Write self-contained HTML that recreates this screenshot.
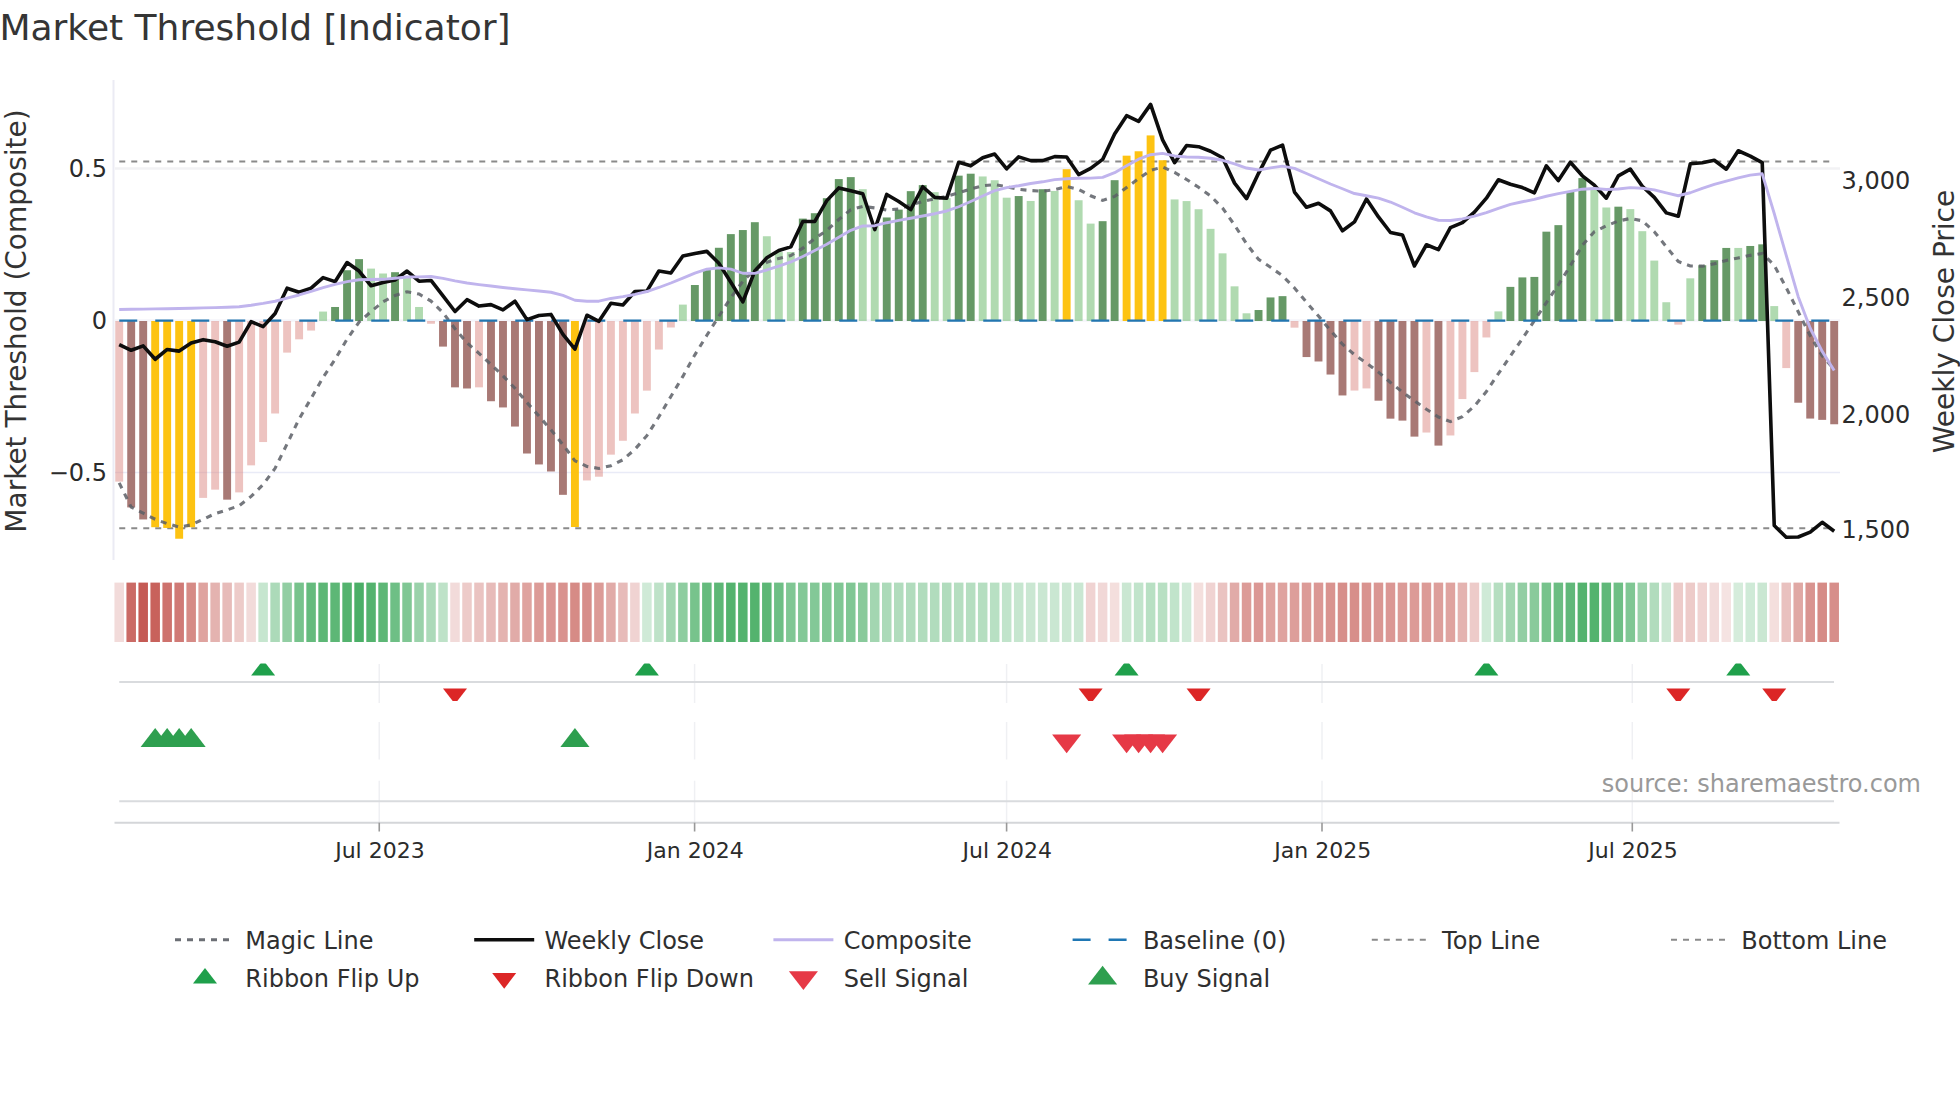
<!DOCTYPE html>
<html><head><meta charset="utf-8"><title>Market Threshold [Indicator]</title>
<style>html,body{margin:0;padding:0;background:#fff}svg{display:block}</style></head>
<body>
<svg width="1960" height="1102" viewBox="0 0 1960 1102" font-family='"DejaVu Sans", "Liberation Sans", sans-serif'>
<rect width="1960" height="1102" fill="#fff"/>
<text x="-0.6" y="39.9" font-size="36" fill="#353535">Market Threshold [Indicator]</text>
<g id="grid">
<line x1="115" x2="1840" y1="168.5" y2="168.5" stroke="#f2f2f4" stroke-width="2.4"/>
<line x1="115" x2="1840" y1="472.5" y2="472.5" stroke="#e9ebf7" stroke-width="1.6"/>
<line x1="115" x2="1840" y1="320.5" y2="320.5" stroke="#f5f5fa" stroke-width="2.4"/>
<line x1="113.5" x2="113.5" y1="80" y2="560" stroke="#ebebf4" stroke-width="2"/>
</g>
<line x1="119.25" x2="1834" y1="161.4" y2="161.4" stroke="#8a8a8a" stroke-width="2" stroke-dasharray="6 6"/>
<line x1="119.25" x2="1834" y1="528.3" y2="528.3" stroke="#8a8a8a" stroke-width="2" stroke-dasharray="6 6"/>
<g id="bars" shape-rendering="auto">
<rect x="115.25" y="321.0" width="7.9" height="160.62" fill="rgba(219,135,129,0.5)"/>
<rect x="127.24" y="321.0" width="7.9" height="186.42" fill="rgba(159,106,102,0.9)"/>
<rect x="139.24" y="321.0" width="7.9" height="198.45" fill="rgba(159,106,102,0.9)"/>
<rect x="151.23" y="321.0" width="7.9" height="206.21" fill="rgba(253,190,0,0.93)"/>
<rect x="163.22" y="321.0" width="7.9" height="206.97" fill="rgba(253,190,0,0.93)"/>
<rect x="175.22" y="321.0" width="7.9" height="217.74" fill="rgba(253,190,0,0.93)"/>
<rect x="187.21" y="321.0" width="7.9" height="206.21" fill="rgba(253,190,0,0.93)"/>
<rect x="199.2" y="321.0" width="7.9" height="176.9" fill="rgba(219,135,129,0.5)"/>
<rect x="211.19" y="321.0" width="7.9" height="168.64" fill="rgba(219,135,129,0.5)"/>
<rect x="223.19" y="321.0" width="7.9" height="178.66" fill="rgba(159,106,102,0.9)"/>
<rect x="235.18" y="321.0" width="7.9" height="171.39" fill="rgba(219,135,129,0.5)"/>
<rect x="247.17" y="321.0" width="7.9" height="144.34" fill="rgba(219,135,129,0.5)"/>
<rect x="259.17" y="321.0" width="7.9" height="121.04" fill="rgba(219,135,129,0.5)"/>
<rect x="271.16" y="321.0" width="7.9" height="92.48" fill="rgba(219,135,129,0.5)"/>
<rect x="283.15" y="321.0" width="7.9" height="31.61" fill="rgba(219,135,129,0.5)"/>
<rect x="295.15" y="321.0" width="7.9" height="18.33" fill="rgba(219,135,129,0.5)"/>
<rect x="307.14" y="321.0" width="7.9" height="9.56" fill="rgba(219,135,129,0.5)"/>
<rect x="319.13" y="311.57" width="7.9" height="9.43" fill="rgba(97,181,97,0.5)"/>
<rect x="331.12" y="306.99" width="7.9" height="14.01" fill="rgba(85,142,85,0.9)"/>
<rect x="343.12" y="270.24" width="7.9" height="50.76" fill="rgba(85,142,85,0.9)"/>
<rect x="355.11" y="259.13" width="7.9" height="61.87" fill="rgba(85,142,85,0.9)"/>
<rect x="367.1" y="268.61" width="7.9" height="52.39" fill="rgba(97,181,97,0.5)"/>
<rect x="379.1" y="273.51" width="7.9" height="47.49" fill="rgba(97,181,97,0.5)"/>
<rect x="391.09" y="272.2" width="7.9" height="48.8" fill="rgba(85,142,85,0.9)"/>
<rect x="403.08" y="277.43" width="7.9" height="43.57" fill="rgba(97,181,97,0.5)"/>
<rect x="415.07" y="306.99" width="7.9" height="14.01" fill="rgba(97,181,97,0.5)"/>
<rect x="427.07" y="321.0" width="7.9" height="2.73" fill="rgba(219,135,129,0.5)"/>
<rect x="439.06" y="321.0" width="7.9" height="25.6" fill="rgba(159,106,102,0.9)"/>
<rect x="451.05" y="321.0" width="7.9" height="66.35" fill="rgba(159,106,102,0.9)"/>
<rect x="463.05" y="321.0" width="7.9" height="67.49" fill="rgba(159,106,102,0.9)"/>
<rect x="475.04" y="321.0" width="7.9" height="66.35" fill="rgba(219,135,129,0.5)"/>
<rect x="487.03" y="321.0" width="7.9" height="80.24" fill="rgba(159,106,102,0.9)"/>
<rect x="499.03" y="321.0" width="7.9" height="86.44" fill="rgba(159,106,102,0.9)"/>
<rect x="511.02" y="321.0" width="7.9" height="105.55" fill="rgba(159,106,102,0.9)"/>
<rect x="523.01" y="321.0" width="7.9" height="132.51" fill="rgba(159,106,102,0.9)"/>
<rect x="535" y="321.0" width="7.9" height="143.45" fill="rgba(159,106,102,0.9)"/>
<rect x="547" y="321.0" width="7.9" height="150.48" fill="rgba(159,106,102,0.9)"/>
<rect x="558.99" y="321.0" width="7.9" height="173.83" fill="rgba(159,106,102,0.9)"/>
<rect x="570.98" y="321.0" width="7.9" height="206.01" fill="rgba(253,190,0,0.93)"/>
<rect x="582.98" y="321.0" width="7.9" height="159.46" fill="rgba(219,135,129,0.5)"/>
<rect x="594.97" y="321.0" width="7.9" height="155.7" fill="rgba(219,135,129,0.5)"/>
<rect x="606.96" y="321.0" width="7.9" height="133.65" fill="rgba(219,135,129,0.5)"/>
<rect x="618.96" y="321.0" width="7.9" height="119.77" fill="rgba(219,135,129,0.5)"/>
<rect x="630.95" y="321.0" width="7.9" height="92.49" fill="rgba(219,135,129,0.5)"/>
<rect x="642.94" y="321.0" width="7.9" height="69.62" fill="rgba(219,135,129,0.5)"/>
<rect x="654.94" y="321.0" width="7.9" height="28.54" fill="rgba(219,135,129,0.5)"/>
<rect x="666.93" y="321.0" width="7.9" height="6.48" fill="rgba(219,135,129,0.5)"/>
<rect x="678.92" y="304.61" width="7.9" height="16.39" fill="rgba(97,181,97,0.5)"/>
<rect x="690.91" y="285.01" width="7.9" height="35.99" fill="rgba(85,142,85,0.9)"/>
<rect x="702.91" y="269" width="7.9" height="52" fill="rgba(85,142,85,0.9)"/>
<rect x="714.9" y="247.77" width="7.9" height="73.23" fill="rgba(85,142,85,0.9)"/>
<rect x="726.89" y="234.12" width="7.9" height="86.88" fill="rgba(85,142,85,0.9)"/>
<rect x="738.89" y="230.04" width="7.9" height="90.96" fill="rgba(85,142,85,0.9)"/>
<rect x="750.88" y="222.2" width="7.9" height="98.8" fill="rgba(85,142,85,0.9)"/>
<rect x="762.87" y="236.25" width="7.9" height="84.75" fill="rgba(97,181,97,0.5)"/>
<rect x="774.87" y="252.09" width="7.9" height="68.91" fill="rgba(97,181,97,0.5)"/>
<rect x="786.86" y="252.09" width="7.9" height="68.91" fill="rgba(97,181,97,0.5)"/>
<rect x="798.85" y="218.61" width="7.9" height="102.39" fill="rgba(85,142,85,0.9)"/>
<rect x="810.84" y="213.22" width="7.9" height="107.78" fill="rgba(85,142,85,0.9)"/>
<rect x="822.84" y="198.19" width="7.9" height="122.81" fill="rgba(85,142,85,0.9)"/>
<rect x="834.83" y="179.08" width="7.9" height="141.92" fill="rgba(85,142,85,0.9)"/>
<rect x="846.82" y="177.12" width="7.9" height="143.88" fill="rgba(85,142,85,0.9)"/>
<rect x="858.82" y="189.2" width="7.9" height="131.8" fill="rgba(97,181,97,0.5)"/>
<rect x="870.81" y="224.32" width="7.9" height="96.68" fill="rgba(97,181,97,0.5)"/>
<rect x="882.8" y="217.46" width="7.9" height="103.54" fill="rgba(85,142,85,0.9)"/>
<rect x="894.8" y="209.62" width="7.9" height="111.38" fill="rgba(85,142,85,0.9)"/>
<rect x="906.79" y="191.16" width="7.9" height="129.84" fill="rgba(85,142,85,0.9)"/>
<rect x="918.78" y="185.12" width="7.9" height="135.88" fill="rgba(85,142,85,0.9)"/>
<rect x="930.77" y="192.14" width="7.9" height="128.86" fill="rgba(97,181,97,0.5)"/>
<rect x="942.77" y="198.19" width="7.9" height="122.81" fill="rgba(97,181,97,0.5)"/>
<rect x="954.76" y="175.65" width="7.9" height="145.35" fill="rgba(85,142,85,0.9)"/>
<rect x="966.75" y="173.69" width="7.9" height="147.31" fill="rgba(85,142,85,0.9)"/>
<rect x="978.75" y="176.46" width="7.9" height="144.54" fill="rgba(97,181,97,0.5)"/>
<rect x="990.74" y="180.22" width="7.9" height="140.78" fill="rgba(97,181,97,0.5)"/>
<rect x="1002.73" y="197.7" width="7.9" height="123.3" fill="rgba(97,181,97,0.5)"/>
<rect x="1014.73" y="196.06" width="7.9" height="124.94" fill="rgba(85,142,85,0.9)"/>
<rect x="1026.72" y="200.96" width="7.9" height="120.04" fill="rgba(97,181,97,0.5)"/>
<rect x="1038.71" y="189.2" width="7.9" height="131.8" fill="rgba(85,142,85,0.9)"/>
<rect x="1050.7" y="190.95" width="7.9" height="130.05" fill="rgba(97,181,97,0.5)"/>
<rect x="1062.7" y="169.22" width="7.9" height="151.78" fill="rgba(253,190,0,0.93)"/>
<rect x="1074.69" y="200.26" width="7.9" height="120.74" fill="rgba(97,181,97,0.5)"/>
<rect x="1086.68" y="223.62" width="7.9" height="97.38" fill="rgba(97,181,97,0.5)"/>
<rect x="1098.68" y="221.17" width="7.9" height="99.83" fill="rgba(85,142,85,0.9)"/>
<rect x="1110.67" y="180.17" width="7.9" height="140.83" fill="rgba(85,142,85,0.9)"/>
<rect x="1122.66" y="155.67" width="7.9" height="165.33" fill="rgba(253,190,0,0.93)"/>
<rect x="1134.65" y="151.26" width="7.9" height="169.74" fill="rgba(253,190,0,0.93)"/>
<rect x="1146.65" y="135.41" width="7.9" height="185.59" fill="rgba(253,190,0,0.93)"/>
<rect x="1158.64" y="160.24" width="7.9" height="160.76" fill="rgba(253,190,0,0.93)"/>
<rect x="1170.63" y="199.44" width="7.9" height="121.56" fill="rgba(97,181,97,0.5)"/>
<rect x="1182.63" y="201.08" width="7.9" height="119.92" fill="rgba(97,181,97,0.5)"/>
<rect x="1194.62" y="209.24" width="7.9" height="111.76" fill="rgba(97,181,97,0.5)"/>
<rect x="1206.61" y="228.85" width="7.9" height="92.15" fill="rgba(97,181,97,0.5)"/>
<rect x="1218.61" y="253.35" width="7.9" height="67.65" fill="rgba(97,181,97,0.5)"/>
<rect x="1230.6" y="286.33" width="7.9" height="34.67" fill="rgba(97,181,97,0.5)"/>
<rect x="1242.59" y="313.29" width="7.9" height="7.71" fill="rgba(97,181,97,0.5)"/>
<rect x="1254.59" y="310.02" width="7.9" height="10.98" fill="rgba(85,142,85,0.9)"/>
<rect x="1266.58" y="297.44" width="7.9" height="23.56" fill="rgba(85,142,85,0.9)"/>
<rect x="1278.57" y="296.14" width="7.9" height="24.86" fill="rgba(85,142,85,0.9)"/>
<rect x="1290.56" y="321.0" width="7.9" height="6.66" fill="rgba(219,135,129,0.5)"/>
<rect x="1302.56" y="321.0" width="7.9" height="36.06" fill="rgba(159,106,102,0.9)"/>
<rect x="1314.55" y="321.0" width="7.9" height="40.48" fill="rgba(159,106,102,0.9)"/>
<rect x="1326.54" y="321.0" width="7.9" height="53.54" fill="rgba(159,106,102,0.9)"/>
<rect x="1338.54" y="321.0" width="7.9" height="74.45" fill="rgba(159,106,102,0.9)"/>
<rect x="1350.53" y="321.0" width="7.9" height="69.55" fill="rgba(219,135,129,0.5)"/>
<rect x="1362.52" y="321.0" width="7.9" height="67.43" fill="rgba(219,135,129,0.5)"/>
<rect x="1374.52" y="321.0" width="7.9" height="79.68" fill="rgba(159,106,102,0.9)"/>
<rect x="1386.51" y="321.0" width="7.9" height="97.65" fill="rgba(159,106,102,0.9)"/>
<rect x="1398.5" y="321.0" width="7.9" height="99.61" fill="rgba(159,106,102,0.9)"/>
<rect x="1410.49" y="321.0" width="7.9" height="115.62" fill="rgba(159,106,102,0.9)"/>
<rect x="1422.49" y="321.0" width="7.9" height="111.53" fill="rgba(219,135,129,0.5)"/>
<rect x="1434.48" y="321.0" width="7.9" height="124.6" fill="rgba(159,106,102,0.9)"/>
<rect x="1446.47" y="321.0" width="7.9" height="114.47" fill="rgba(219,135,129,0.5)"/>
<rect x="1458.47" y="321.0" width="7.9" height="78.05" fill="rgba(219,135,129,0.5)"/>
<rect x="1470.46" y="321.0" width="7.9" height="51.09" fill="rgba(219,135,129,0.5)"/>
<rect x="1482.45" y="321.0" width="7.9" height="16.46" fill="rgba(219,135,129,0.5)"/>
<rect x="1494.44" y="311.39" width="7.9" height="9.61" fill="rgba(97,181,97,0.5)"/>
<rect x="1506.44" y="286.89" width="7.9" height="34.11" fill="rgba(85,142,85,0.9)"/>
<rect x="1518.43" y="277.41" width="7.9" height="43.59" fill="rgba(85,142,85,0.9)"/>
<rect x="1530.42" y="276.92" width="7.9" height="44.08" fill="rgba(85,142,85,0.9)"/>
<rect x="1542.42" y="231.67" width="7.9" height="89.33" fill="rgba(85,142,85,0.9)"/>
<rect x="1554.41" y="225.14" width="7.9" height="95.86" fill="rgba(85,142,85,0.9)"/>
<rect x="1566.4" y="191.65" width="7.9" height="129.35" fill="rgba(85,142,85,0.9)"/>
<rect x="1578.4" y="178.1" width="7.9" height="142.9" fill="rgba(85,142,85,0.9)"/>
<rect x="1590.39" y="189.2" width="7.9" height="131.8" fill="rgba(97,181,97,0.5)"/>
<rect x="1602.38" y="207.5" width="7.9" height="113.5" fill="rgba(97,181,97,0.5)"/>
<rect x="1614.38" y="206.68" width="7.9" height="114.32" fill="rgba(85,142,85,0.9)"/>
<rect x="1626.37" y="209.13" width="7.9" height="111.87" fill="rgba(97,181,97,0.5)"/>
<rect x="1638.36" y="231.18" width="7.9" height="89.82" fill="rgba(97,181,97,0.5)"/>
<rect x="1650.35" y="260.59" width="7.9" height="60.41" fill="rgba(97,181,97,0.5)"/>
<rect x="1662.35" y="302.24" width="7.9" height="18.76" fill="rgba(97,181,97,0.5)"/>
<rect x="1674.34" y="321.0" width="7.9" height="3.63" fill="rgba(219,135,129,0.5)"/>
<rect x="1686.33" y="278.32" width="7.9" height="42.68" fill="rgba(97,181,97,0.5)"/>
<rect x="1698.33" y="265.25" width="7.9" height="55.75" fill="rgba(85,142,85,0.9)"/>
<rect x="1710.32" y="260.19" width="7.9" height="60.81" fill="rgba(85,142,85,0.9)"/>
<rect x="1722.31" y="247.94" width="7.9" height="73.06" fill="rgba(85,142,85,0.9)"/>
<rect x="1734.31" y="247.94" width="7.9" height="73.06" fill="rgba(97,181,97,0.5)"/>
<rect x="1746.3" y="245.98" width="7.9" height="75.02" fill="rgba(85,142,85,0.9)"/>
<rect x="1758.29" y="244.34" width="7.9" height="76.66" fill="rgba(85,142,85,0.9)"/>
<rect x="1770.28" y="306.09" width="7.9" height="14.91" fill="rgba(97,181,97,0.5)"/>
<rect x="1782.28" y="321.0" width="7.9" height="47.08" fill="rgba(219,135,129,0.5)"/>
<rect x="1794.27" y="321.0" width="7.9" height="81.71" fill="rgba(159,106,102,0.9)"/>
<rect x="1806.26" y="321.0" width="7.9" height="97.56" fill="rgba(159,106,102,0.9)"/>
<rect x="1818.26" y="321.0" width="7.9" height="98.86" fill="rgba(159,106,102,0.9)"/>
<rect x="1830.25" y="321.0" width="7.9" height="103.27" fill="rgba(159,106,102,0.9)"/>
</g>
<polyline fill="none" stroke="#5c5f66" stroke-opacity="0.85" stroke-width="3.1" stroke-dasharray="6 6" points="119.2,482.87 131.19,507.14 143.19,513.24 155.18,519.24 167.17,523.67 179.17,527 191.16,524.87 203.15,519.29 215.14,513.59 227.14,509.88 239.13,505.71 251.12,496.41 263.12,484.51 275.11,468.3 287.1,443.88 299.1,418.94 311.09,398.39 323.08,377.44 335.07,359.45 347.07,339.14 359.06,322.07 371.05,311.61 383.05,301.68 395.04,295.46 407.03,291.73 419.02,294.02 431.02,301.06 443.01,312.75 455,328.74 467,342.79 478.99,353.3 490.98,364.49 502.98,375.86 514.97,388.28 526.96,402.53 538.96,416.08 550.95,429.87 562.94,444.64 574.93,460.8 586.93,466.41 598.92,468.43 610.91,465.71 622.91,459.81 634.9,449.33 646.89,435.66 658.89,416.72 670.88,396.5 682.87,376.38 694.86,354.85 706.86,335.3 718.85,316.34 730.84,297.71 742.84,281.26 754.83,269.63 766.82,262.32 778.82,258.4 790.81,255.48 802.8,248.13 814.79,238.6 826.79,230.3 838.78,219.49 850.77,209.69 862.77,206.36 874.76,207.93 886.75,210 898.75,208.98 910.74,204.93 922.73,201.46 934.72,198.89 946.72,196.24 958.71,192.79 970.7,189.04 982.7,185.77 994.69,184.59 1006.68,186.78 1018.68,189.36 1030.67,190.52 1042.66,191.19 1054.65,189.66 1066.65,186.44 1078.64,189.36 1090.63,195.77 1102.63,200.4 1114.62,196.44 1126.61,187.57 1138.61,178.58 1150.6,170.39 1162.59,166.98 1174.58,172.38 1186.58,179.45 1198.57,187.27 1210.56,195.85 1222.56,208.12 1234.55,225.01 1246.54,243.82 1258.54,259.33 1270.53,267.31 1282.52,275.77 1294.51,287.93 1306.51,302.29 1318.5,316.09 1330.49,330.53 1342.49,344.19 1354.48,354.74 1366.47,363.1 1378.47,372.09 1390.46,382.47 1402.45,392.06 1414.44,400.91 1426.44,409.24 1438.43,417 1450.42,421.59 1462.42,416.74 1474.41,406.1 1486.4,391.53 1498.39,373.64 1510.39,356.04 1522.38,338.6 1534.37,320.63 1546.37,302.62 1558.36,284.99 1570.35,265.64 1582.35,245.3 1594.34,231.76 1606.33,225.74 1618.33,221.03 1630.32,218.46 1642.31,220.82 1654.3,231.7 1666.3,246.74 1678.29,261.52 1690.28,265.96 1702.28,266.17 1714.27,263.84 1726.26,260.41 1738.26,257.96 1750.25,255.36 1762.24,253.37 1774.23,265.36 1786.23,287.69 1798.22,311.75 1810.21,335.74 1822.21,355.86 1834.2,369.22"/>
<line x1="119.25" x2="1834" y1="320.6" y2="320.6" stroke="#2276b0" stroke-width="2.4" stroke-dasharray="18 18"/>
<polyline fill="none" stroke="#0d0d0d" stroke-width="3.6" stroke-linejoin="round" points="119.2,344.56 131.19,350.28 143.19,345.87 155.18,359.26 167.17,349.46 179.17,351.1 191.16,342.93 203.15,339.66 215.14,341.79 227.14,346.2 239.13,342.11 251.12,321.69 263.12,326.6 275.11,313.53 287.1,288.21 299.1,292.29 311.09,288.21 323.08,277.59 335.07,281.67 347.07,262.56 359.06,271.06 371.05,285.76 383.05,282.49 395.04,280.04 407.03,271.06 419.02,281.18 431.02,280.44 443.01,295.96 455,311.48 467,299.71 478.99,306.08 490.98,304.61 502.98,309.84 514.97,301.18 526.96,319.64 538.96,315.56 550.95,314.42 562.94,334.34 574.93,349.05 586.93,315.23 598.92,321.28 610.91,303.31 622.91,304.94 634.9,291.55 646.89,291.06 658.89,270.96 670.88,273.09 682.87,255.94 694.86,253.49 706.86,251.36 718.85,263.29 730.84,282.31 742.84,301.91 754.83,270.88 766.82,257.81 778.82,250.46 790.81,246.87 802.8,221.55 814.79,221.38 826.79,200.64 838.78,187.9 850.77,190.84 862.77,193.78 874.76,229.55 886.75,194.43 898.75,201.45 910.74,209.62 922.73,186.75 934.72,197.37 946.72,198.19 958.71,162.25 970.7,165.84 982.7,157.68 994.69,154.08 1006.68,168.79 1018.68,156.86 1030.67,160.62 1042.66,160.62 1054.65,156.65 1066.65,156.97 1078.64,174.61 1090.63,168.41 1102.63,159.42 1114.62,134.1 1126.61,115.65 1138.61,121.36 1150.6,104.37 1162.59,139.82 1174.58,162.69 1186.58,145.54 1198.57,146.68 1210.56,151.26 1222.56,157.79 1234.55,183.11 1246.54,198.63 1258.54,173.31 1270.53,150.11 1282.52,145.05 1294.51,192.09 1306.51,207.28 1318.5,203.2 1330.49,210.88 1342.49,230.81 1354.48,221.87 1366.47,199 1378.47,216.97 1390.46,232.49 1402.45,234.94 1414.44,265.98 1426.44,244.74 1438.43,249.64 1450.42,227.59 1462.42,222.69 1474.41,212.07 1486.4,198.19 1498.39,179.73 1510.39,184.3 1522.38,187.57 1534.37,192.8 1546.37,165.84 1558.36,180.55 1570.35,162.25 1582.35,175.81 1594.34,185.12 1606.33,198.19 1618.33,175.81 1630.32,169.11 1642.31,186.26 1654.3,197.37 1666.3,212.89 1678.29,216.25 1690.28,163.81 1702.28,162.67 1714.27,160.22 1726.26,169.2 1738.26,150.75 1750.25,156.14 1762.24,162.67 1774.23,525.56 1786.23,537.32 1798.22,536.99 1810.21,532.09 1822.21,522.29 1834.2,531.28"/>
<polyline fill="none" stroke="#c0b4ed" stroke-width="2.9" stroke-linejoin="round" points="119.2,309.44 131.19,309.27 143.19,309.1 155.18,308.92 167.17,308.75 179.17,308.53 191.16,308.21 203.15,307.89 215.14,307.58 227.14,307.26 239.13,306.78 251.12,305.28 263.12,303.43 275.11,301.24 287.1,298.18 299.1,294.98 311.09,291.44 323.08,287.53 335.07,284.41 347.07,281.63 359.06,279.8 371.05,279.56 383.05,279.32 395.04,278.27 407.03,277.05 419.02,276.86 431.02,276.5 443.01,278.42 455,280.86 467,283.02 478.99,284.58 490.98,286.02 502.98,287.44 514.97,288.76 526.96,289.9 538.96,291.03 550.95,292.27 562.94,295.47 574.93,300.27 586.93,301.18 598.92,301.18 610.91,298.46 622.91,296.64 634.9,294.46 646.89,291.51 658.89,287.49 670.88,283 682.87,278.17 694.86,273.13 706.86,269.2 718.85,267.87 730.84,269.17 742.84,273.25 754.83,273.33 766.82,269.99 778.82,266.24 790.81,261.96 802.8,256.53 814.79,250.53 826.79,244.2 838.78,237.19 850.77,230.29 862.77,225.96 874.76,225.7 886.75,222.71 898.75,220.45 910.74,218.2 922.73,215.96 934.72,213.71 946.72,210.98 958.71,206.75 970.7,201.51 982.7,195.98 994.69,190.7 1006.68,187.56 1018.68,185.72 1030.67,183.47 1042.66,181.81 1054.65,179.62 1066.65,178.69 1078.64,178.21 1090.63,178.11 1102.63,177.41 1114.62,172.67 1126.61,165.83 1138.61,159.2 1150.6,154.7 1162.59,153.4 1174.58,155.94 1186.58,156.94 1198.57,157.2 1210.56,158.24 1222.56,160.28 1234.55,163.88 1246.54,168.01 1258.54,170 1270.53,167.86 1282.52,166.08 1294.51,168.34 1306.51,173.52 1318.5,178.77 1330.49,184.01 1342.49,188.73 1354.48,193.55 1366.47,195.74 1378.47,198.11 1390.46,202.03 1402.45,207.26 1414.44,212.76 1426.44,216.97 1438.43,220.25 1450.42,220.55 1462.42,218.9 1474.41,216.09 1486.4,212.53 1498.39,208.29 1510.39,204.39 1522.38,201.73 1534.37,199.35 1546.37,196.23 1558.36,193.63 1570.35,191.38 1582.35,189.18 1594.34,188.43 1606.33,189.52 1618.33,188.96 1630.32,187.64 1642.31,188.26 1654.3,189.93 1666.3,192.93 1678.29,195.75 1690.28,192.74 1702.28,188.32 1714.27,184.38 1726.26,181.12 1738.26,177.96 1750.25,175.18 1762.24,173.8 1774.23,213.5 1786.23,255.47 1798.22,296.69 1810.21,328.23 1822.21,351.39 1834.2,370.58"/>
<text x="107" y="177.1" font-size="24" text-anchor="end" fill="#2b2b2b">0.5</text>
<text x="107" y="329.1" font-size="24" text-anchor="end" fill="#2b2b2b">0</text>
<text x="107" y="481.1" font-size="24" text-anchor="end" fill="#2b2b2b">−0.5</text>
<text x="1841.5" y="188.8" font-size="24" fill="#2b2b2b">3,000</text>
<text x="1841.5" y="305.8" font-size="24" fill="#2b2b2b">2,500</text>
<text x="1841.5" y="422.5" font-size="24" fill="#2b2b2b">2,000</text>
<text x="1841.5" y="538.0" font-size="24" fill="#2b2b2b">1,500</text>
<text transform="translate(26,321) rotate(-90)" font-size="28" text-anchor="middle" fill="#333">Market Threshold (Composite)</text>
<text transform="translate(1953.6,321.5) rotate(-90)" font-size="28" text-anchor="middle" fill="#333">Weekly Close Price</text>
<g id="ribbon">
<rect x="114.45" y="582.6" width="9.5" height="59.4" fill="rgb(242, 219, 218)"/>
<rect x="126.44" y="582.6" width="9.5" height="59.4" fill="rgb(203, 106, 101)"/>
<rect x="138.44" y="582.6" width="9.5" height="59.4" fill="rgb(197, 90, 84)"/>
<rect x="150.43" y="582.6" width="9.5" height="59.4" fill="rgb(200, 98, 92)"/>
<rect x="162.42" y="582.6" width="9.5" height="59.4" fill="rgb(206, 114, 109)"/>
<rect x="174.42" y="582.6" width="9.5" height="59.4" fill="rgb(208, 122, 118)"/>
<rect x="186.41" y="582.6" width="9.5" height="59.4" fill="rgb(214, 139, 134)"/>
<rect x="198.4" y="582.6" width="9.5" height="59.4" fill="rgb(223, 163, 159)"/>
<rect x="210.39" y="582.6" width="9.5" height="59.4" fill="rgb(228, 179, 176)"/>
<rect x="222.39" y="582.6" width="9.5" height="59.4" fill="rgb(231, 187, 185)"/>
<rect x="234.38" y="582.6" width="9.5" height="59.4" fill="rgb(237, 203, 201)"/>
<rect x="246.37" y="582.6" width="9.5" height="59.4" fill="rgb(242, 219, 218)"/>
<rect x="258.37" y="582.6" width="9.5" height="59.4" fill="rgb(198, 230, 207)"/>
<rect x="270.36" y="582.6" width="9.5" height="59.4" fill="rgb(172, 218, 185)"/>
<rect x="282.35" y="582.6" width="9.5" height="59.4" fill="rgb(146, 206, 163)"/>
<rect x="294.35" y="582.6" width="9.5" height="59.4" fill="rgb(119, 195, 140)"/>
<rect x="306.34" y="582.6" width="9.5" height="59.4" fill="rgb(101, 187, 125)"/>
<rect x="318.33" y="582.6" width="9.5" height="59.4" fill="rgb(93, 183, 118)"/>
<rect x="330.32" y="582.6" width="9.5" height="59.4" fill="rgb(93, 183, 118)"/>
<rect x="342.32" y="582.6" width="9.5" height="59.4" fill="rgb(84, 179, 110)"/>
<rect x="354.31" y="582.6" width="9.5" height="59.4" fill="rgb(75, 175, 103)"/>
<rect x="366.3" y="582.6" width="9.5" height="59.4" fill="rgb(84, 179, 110)"/>
<rect x="378.3" y="582.6" width="9.5" height="59.4" fill="rgb(93, 183, 118)"/>
<rect x="390.29" y="582.6" width="9.5" height="59.4" fill="rgb(110, 191, 133)"/>
<rect x="402.28" y="582.6" width="9.5" height="59.4" fill="rgb(128, 199, 148)"/>
<rect x="414.27" y="582.6" width="9.5" height="59.4" fill="rgb(154, 210, 170)"/>
<rect x="426.27" y="582.6" width="9.5" height="59.4" fill="rgb(172, 218, 185)"/>
<rect x="438.26" y="582.6" width="9.5" height="59.4" fill="rgb(190, 226, 200)"/>
<rect x="450.25" y="582.6" width="9.5" height="59.4" fill="rgb(242, 219, 218)"/>
<rect x="462.25" y="582.6" width="9.5" height="59.4" fill="rgb(237, 203, 201)"/>
<rect x="474.24" y="582.6" width="9.5" height="59.4" fill="rgb(234, 195, 193)"/>
<rect x="486.23" y="582.6" width="9.5" height="59.4" fill="rgb(231, 187, 185)"/>
<rect x="498.23" y="582.6" width="9.5" height="59.4" fill="rgb(228, 179, 176)"/>
<rect x="510.22" y="582.6" width="9.5" height="59.4" fill="rgb(225, 171, 168)"/>
<rect x="522.21" y="582.6" width="9.5" height="59.4" fill="rgb(223, 163, 159)"/>
<rect x="534.21" y="582.6" width="9.5" height="59.4" fill="rgb(220, 155, 151)"/>
<rect x="546.2" y="582.6" width="9.5" height="59.4" fill="rgb(219, 151, 148)"/>
<rect x="558.19" y="582.6" width="9.5" height="59.4" fill="rgb(217, 147, 143)"/>
<rect x="570.18" y="582.6" width="9.5" height="59.4" fill="rgb(214, 139, 134)"/>
<rect x="582.18" y="582.6" width="9.5" height="59.4" fill="rgb(215, 142, 138)"/>
<rect x="594.17" y="582.6" width="9.5" height="59.4" fill="rgb(220, 155, 151)"/>
<rect x="606.16" y="582.6" width="9.5" height="59.4" fill="rgb(225, 171, 168)"/>
<rect x="618.16" y="582.6" width="9.5" height="59.4" fill="rgb(231, 187, 185)"/>
<rect x="630.15" y="582.6" width="9.5" height="59.4" fill="rgb(240, 211, 210)"/>
<rect x="642.14" y="582.6" width="9.5" height="59.4" fill="rgb(207, 234, 215)"/>
<rect x="654.14" y="582.6" width="9.5" height="59.4" fill="rgb(190, 226, 200)"/>
<rect x="666.13" y="582.6" width="9.5" height="59.4" fill="rgb(163, 214, 177)"/>
<rect x="678.12" y="582.6" width="9.5" height="59.4" fill="rgb(142, 205, 160)"/>
<rect x="690.11" y="582.6" width="9.5" height="59.4" fill="rgb(119, 195, 140)"/>
<rect x="702.11" y="582.6" width="9.5" height="59.4" fill="rgb(101, 187, 125)"/>
<rect x="714.1" y="582.6" width="9.5" height="59.4" fill="rgb(93, 183, 118)"/>
<rect x="726.09" y="582.6" width="9.5" height="59.4" fill="rgb(84, 179, 110)"/>
<rect x="738.09" y="582.6" width="9.5" height="59.4" fill="rgb(84, 179, 110)"/>
<rect x="750.08" y="582.6" width="9.5" height="59.4" fill="rgb(84, 179, 110)"/>
<rect x="762.07" y="582.6" width="9.5" height="59.4" fill="rgb(93, 183, 118)"/>
<rect x="774.07" y="582.6" width="9.5" height="59.4" fill="rgb(110, 191, 133)"/>
<rect x="786.06" y="582.6" width="9.5" height="59.4" fill="rgb(128, 199, 148)"/>
<rect x="798.05" y="582.6" width="9.5" height="59.4" fill="rgb(131, 200, 151)"/>
<rect x="810.04" y="582.6" width="9.5" height="59.4" fill="rgb(131, 200, 151)"/>
<rect x="822.04" y="582.6" width="9.5" height="59.4" fill="rgb(128, 199, 148)"/>
<rect x="834.03" y="582.6" width="9.5" height="59.4" fill="rgb(128, 199, 148)"/>
<rect x="846.02" y="582.6" width="9.5" height="59.4" fill="rgb(128, 199, 148)"/>
<rect x="858.02" y="582.6" width="9.5" height="59.4" fill="rgb(137, 202, 155)"/>
<rect x="870.01" y="582.6" width="9.5" height="59.4" fill="rgb(163, 214, 177)"/>
<rect x="882" y="582.6" width="9.5" height="59.4" fill="rgb(172, 218, 185)"/>
<rect x="894" y="582.6" width="9.5" height="59.4" fill="rgb(177, 220, 189)"/>
<rect x="905.99" y="582.6" width="9.5" height="59.4" fill="rgb(177, 220, 189)"/>
<rect x="917.98" y="582.6" width="9.5" height="59.4" fill="rgb(177, 220, 189)"/>
<rect x="929.97" y="582.6" width="9.5" height="59.4" fill="rgb(177, 220, 189)"/>
<rect x="941.97" y="582.6" width="9.5" height="59.4" fill="rgb(177, 220, 189)"/>
<rect x="953.96" y="582.6" width="9.5" height="59.4" fill="rgb(181, 222, 192)"/>
<rect x="965.95" y="582.6" width="9.5" height="59.4" fill="rgb(181, 222, 192)"/>
<rect x="977.95" y="582.6" width="9.5" height="59.4" fill="rgb(181, 222, 192)"/>
<rect x="989.94" y="582.6" width="9.5" height="59.4" fill="rgb(184, 224, 195)"/>
<rect x="1001.93" y="582.6" width="9.5" height="59.4" fill="rgb(193, 228, 203)"/>
<rect x="1013.93" y="582.6" width="9.5" height="59.4" fill="rgb(198, 230, 207)"/>
<rect x="1025.92" y="582.6" width="9.5" height="59.4" fill="rgb(202, 231, 210)"/>
<rect x="1037.91" y="582.6" width="9.5" height="59.4" fill="rgb(202, 231, 210)"/>
<rect x="1049.9" y="582.6" width="9.5" height="59.4" fill="rgb(202, 231, 210)"/>
<rect x="1061.9" y="582.6" width="9.5" height="59.4" fill="rgb(202, 231, 210)"/>
<rect x="1073.89" y="582.6" width="9.5" height="59.4" fill="rgb(202, 231, 210)"/>
<rect x="1085.88" y="582.6" width="9.5" height="59.4" fill="rgb(240, 211, 210)"/>
<rect x="1097.88" y="582.6" width="9.5" height="59.4" fill="rgb(241, 216, 215)"/>
<rect x="1109.87" y="582.6" width="9.5" height="59.4" fill="rgb(244, 223, 221)"/>
<rect x="1121.86" y="582.6" width="9.5" height="59.4" fill="rgb(202, 231, 210)"/>
<rect x="1133.86" y="582.6" width="9.5" height="59.4" fill="rgb(193, 228, 203)"/>
<rect x="1145.85" y="582.6" width="9.5" height="59.4" fill="rgb(184, 224, 195)"/>
<rect x="1157.84" y="582.6" width="9.5" height="59.4" fill="rgb(184, 224, 195)"/>
<rect x="1169.83" y="582.6" width="9.5" height="59.4" fill="rgb(193, 228, 203)"/>
<rect x="1181.83" y="582.6" width="9.5" height="59.4" fill="rgb(207, 234, 215)"/>
<rect x="1193.82" y="582.6" width="9.5" height="59.4" fill="rgb(244, 223, 221)"/>
<rect x="1205.81" y="582.6" width="9.5" height="59.4" fill="rgb(240, 211, 210)"/>
<rect x="1217.81" y="582.6" width="9.5" height="59.4" fill="rgb(234, 195, 193)"/>
<rect x="1229.8" y="582.6" width="9.5" height="59.4" fill="rgb(225, 171, 168)"/>
<rect x="1241.79" y="582.6" width="9.5" height="59.4" fill="rgb(220, 155, 151)"/>
<rect x="1253.79" y="582.6" width="9.5" height="59.4" fill="rgb(219, 151, 148)"/>
<rect x="1265.78" y="582.6" width="9.5" height="59.4" fill="rgb(223, 163, 159)"/>
<rect x="1277.77" y="582.6" width="9.5" height="59.4" fill="rgb(223, 163, 159)"/>
<rect x="1289.76" y="582.6" width="9.5" height="59.4" fill="rgb(221, 158, 154)"/>
<rect x="1301.76" y="582.6" width="9.5" height="59.4" fill="rgb(220, 155, 151)"/>
<rect x="1313.75" y="582.6" width="9.5" height="59.4" fill="rgb(219, 151, 148)"/>
<rect x="1325.74" y="582.6" width="9.5" height="59.4" fill="rgb(217, 147, 143)"/>
<rect x="1337.74" y="582.6" width="9.5" height="59.4" fill="rgb(215, 142, 138)"/>
<rect x="1349.73" y="582.6" width="9.5" height="59.4" fill="rgb(215, 142, 138)"/>
<rect x="1361.72" y="582.6" width="9.5" height="59.4" fill="rgb(217, 147, 143)"/>
<rect x="1373.72" y="582.6" width="9.5" height="59.4" fill="rgb(218, 150, 146)"/>
<rect x="1385.71" y="582.6" width="9.5" height="59.4" fill="rgb(219, 151, 148)"/>
<rect x="1397.7" y="582.6" width="9.5" height="59.4" fill="rgb(220, 155, 151)"/>
<rect x="1409.69" y="582.6" width="9.5" height="59.4" fill="rgb(220, 155, 151)"/>
<rect x="1421.69" y="582.6" width="9.5" height="59.4" fill="rgb(220, 155, 151)"/>
<rect x="1433.68" y="582.6" width="9.5" height="59.4" fill="rgb(221, 158, 154)"/>
<rect x="1445.67" y="582.6" width="9.5" height="59.4" fill="rgb(223, 163, 159)"/>
<rect x="1457.67" y="582.6" width="9.5" height="59.4" fill="rgb(228, 179, 176)"/>
<rect x="1469.66" y="582.6" width="9.5" height="59.4" fill="rgb(237, 203, 201)"/>
<rect x="1481.65" y="582.6" width="9.5" height="59.4" fill="rgb(207, 234, 215)"/>
<rect x="1493.64" y="582.6" width="9.5" height="59.4" fill="rgb(181, 222, 192)"/>
<rect x="1505.64" y="582.6" width="9.5" height="59.4" fill="rgb(163, 214, 177)"/>
<rect x="1517.63" y="582.6" width="9.5" height="59.4" fill="rgb(146, 206, 163)"/>
<rect x="1529.62" y="582.6" width="9.5" height="59.4" fill="rgb(137, 202, 155)"/>
<rect x="1541.62" y="582.6" width="9.5" height="59.4" fill="rgb(119, 195, 140)"/>
<rect x="1553.61" y="582.6" width="9.5" height="59.4" fill="rgb(107, 189, 130)"/>
<rect x="1565.6" y="582.6" width="9.5" height="59.4" fill="rgb(96, 184, 121)"/>
<rect x="1577.6" y="582.6" width="9.5" height="59.4" fill="rgb(84, 179, 110)"/>
<rect x="1589.59" y="582.6" width="9.5" height="59.4" fill="rgb(84, 179, 110)"/>
<rect x="1601.58" y="582.6" width="9.5" height="59.4" fill="rgb(96, 184, 121)"/>
<rect x="1613.58" y="582.6" width="9.5" height="59.4" fill="rgb(110, 191, 133)"/>
<rect x="1625.57" y="582.6" width="9.5" height="59.4" fill="rgb(128, 199, 148)"/>
<rect x="1637.56" y="582.6" width="9.5" height="59.4" fill="rgb(154, 210, 170)"/>
<rect x="1649.55" y="582.6" width="9.5" height="59.4" fill="rgb(177, 220, 189)"/>
<rect x="1661.55" y="582.6" width="9.5" height="59.4" fill="rgb(202, 231, 210)"/>
<rect x="1673.54" y="582.6" width="9.5" height="59.4" fill="rgb(237, 203, 201)"/>
<rect x="1685.53" y="582.6" width="9.5" height="59.4" fill="rgb(237, 203, 201)"/>
<rect x="1697.53" y="582.6" width="9.5" height="59.4" fill="rgb(240, 211, 210)"/>
<rect x="1709.52" y="582.6" width="9.5" height="59.4" fill="rgb(242, 219, 218)"/>
<rect x="1721.51" y="582.6" width="9.5" height="59.4" fill="rgb(245, 227, 226)"/>
<rect x="1733.51" y="582.6" width="9.5" height="59.4" fill="rgb(213, 236, 219)"/>
<rect x="1745.5" y="582.6" width="9.5" height="59.4" fill="rgb(207, 234, 215)"/>
<rect x="1757.49" y="582.6" width="9.5" height="59.4" fill="rgb(202, 231, 210)"/>
<rect x="1769.48" y="582.6" width="9.5" height="59.4" fill="rgb(244, 223, 221)"/>
<rect x="1781.48" y="582.6" width="9.5" height="59.4" fill="rgb(233, 193, 191)"/>
<rect x="1793.47" y="582.6" width="9.5" height="59.4" fill="rgb(224, 168, 164)"/>
<rect x="1805.46" y="582.6" width="9.5" height="59.4" fill="rgb(217, 148, 144)"/>
<rect x="1817.46" y="582.6" width="9.5" height="59.4" fill="rgb(214, 139, 134)"/>
<rect x="1829.45" y="582.6" width="9.5" height="59.4" fill="rgb(215, 142, 138)"/>
</g>
<g id="rows">
<line x1="379.25" x2="379.25" y1="664" y2="703" stroke="#eff0f3" stroke-width="1.5"/>
<line x1="379.25" x2="379.25" y1="722" y2="759.5" stroke="#eff0f3" stroke-width="1.5"/>
<line x1="379.25" x2="379.25" y1="780.7" y2="822.7" stroke="#eff0f3" stroke-width="1.5"/>
<line x1="694.6" x2="694.6" y1="664" y2="703" stroke="#eff0f3" stroke-width="1.5"/>
<line x1="694.6" x2="694.6" y1="722" y2="759.5" stroke="#eff0f3" stroke-width="1.5"/>
<line x1="694.6" x2="694.6" y1="780.7" y2="822.7" stroke="#eff0f3" stroke-width="1.5"/>
<line x1="1006.6" x2="1006.6" y1="664" y2="703" stroke="#eff0f3" stroke-width="1.5"/>
<line x1="1006.6" x2="1006.6" y1="722" y2="759.5" stroke="#eff0f3" stroke-width="1.5"/>
<line x1="1006.6" x2="1006.6" y1="780.7" y2="822.7" stroke="#eff0f3" stroke-width="1.5"/>
<line x1="1322.0" x2="1322.0" y1="664" y2="703" stroke="#eff0f3" stroke-width="1.5"/>
<line x1="1322.0" x2="1322.0" y1="722" y2="759.5" stroke="#eff0f3" stroke-width="1.5"/>
<line x1="1322.0" x2="1322.0" y1="780.7" y2="822.7" stroke="#eff0f3" stroke-width="1.5"/>
<line x1="1632.3" x2="1632.3" y1="664" y2="703" stroke="#eff0f3" stroke-width="1.5"/>
<line x1="1632.3" x2="1632.3" y1="722" y2="759.5" stroke="#eff0f3" stroke-width="1.5"/>
<line x1="1632.3" x2="1632.3" y1="780.7" y2="822.7" stroke="#eff0f3" stroke-width="1.5"/>
<line x1="119.25" x2="1834" y1="681.9" y2="681.9" stroke="#d9dbde" stroke-width="2"/>
<line x1="119.25" x2="1834" y1="801.2" y2="801.2" stroke="#d9dbde" stroke-width="2"/>
<line x1="114.5" x2="1839.5" y1="822.7" y2="822.7" stroke="#d4d6d9" stroke-width="2"/>
<line x1="379.25" x2="379.25" y1="822.7" y2="831.5" stroke="#999" stroke-width="1.6"/>
<line x1="694.6" x2="694.6" y1="822.7" y2="831.5" stroke="#999" stroke-width="1.6"/>
<line x1="1006.6" x2="1006.6" y1="822.7" y2="831.5" stroke="#999" stroke-width="1.6"/>
<line x1="1322.0" x2="1322.0" y1="822.7" y2="831.5" stroke="#999" stroke-width="1.6"/>
<line x1="1632.3" x2="1632.3" y1="822.7" y2="831.5" stroke="#999" stroke-width="1.6"/>
</g>
<defs><clipPath id="c1"><rect x="100" y="663.4" width="1760" height="37.7"/></clipPath></defs>
<g clip-path="url(#c1)">
<path d="M251.11,675.6H275.12L263.12,660Z" fill="#1fa04b"/>
<path d="M634.88,675.6H658.9L646.89,660Z" fill="#1fa04b"/>
<path d="M1114.6,675.6H1138.62L1126.61,660Z" fill="#1fa04b"/>
<path d="M1474.39,675.6H1498.41L1486.4,660Z" fill="#1fa04b"/>
<path d="M1726.25,675.6H1750.26L1738.26,660Z" fill="#1fa04b"/>
<path d="M443,688.4H467.01L455,704Z" fill="#dc2626"/>
<path d="M1078.62,688.4H1102.64L1090.63,704Z" fill="#dc2626"/>
<path d="M1186.56,688.4H1210.58L1198.57,704Z" fill="#dc2626"/>
<path d="M1666.28,688.4H1690.3L1678.29,704Z" fill="#dc2626"/>
<path d="M1762.23,688.4H1786.24L1774.23,704Z" fill="#dc2626"/>
</g>
<path d="M140.63,747H169.73L155.18,728.1Z" fill="#2e9f4f"/>
<path d="M152.62,747H181.72L167.17,728.1Z" fill="#2e9f4f"/>
<path d="M164.62,747H193.71L179.17,728.1Z" fill="#2e9f4f"/>
<path d="M176.61,747H205.71L191.16,728.1Z" fill="#2e9f4f"/>
<path d="M560.38,747H589.48L574.93,728.1Z" fill="#2e9f4f"/>
<path d="M1052.1,734.4H1081.2L1066.65,753.3Z" fill="#e63946"/>
<path d="M1112.06,734.4H1141.16L1126.61,753.3Z" fill="#e63946"/>
<path d="M1124.06,734.4H1153.15L1138.61,753.3Z" fill="#e63946"/>
<path d="M1136.05,734.4H1165.15L1150.6,753.3Z" fill="#e63946"/>
<path d="M1148.04,734.4H1177.14L1162.59,753.3Z" fill="#e63946"/>
<text x="379.95" y="857.7" font-size="22" text-anchor="middle" fill="#2b2b2b">Jul 2023</text>
<text x="695.3000000000001" y="857.7" font-size="22" text-anchor="middle" fill="#2b2b2b">Jan 2024</text>
<text x="1007.3000000000001" y="857.7" font-size="22" text-anchor="middle" fill="#2b2b2b">Jul 2024</text>
<text x="1322.7" y="857.7" font-size="22" text-anchor="middle" fill="#2b2b2b">Jan 2025</text>
<text x="1633.0" y="857.7" font-size="22" text-anchor="middle" fill="#2b2b2b">Jul 2025</text>
<text x="1921" y="791.6" font-size="24" text-anchor="end" fill="#999">source: sharemaestro.com</text>
<line x1="175" x2="235" y1="939.8" y2="939.8" stroke="#6c6f75" stroke-width="3.1" stroke-dasharray="6 6"/>
<text x="245.3" y="949.1" font-size="24" fill="#2f2f2f">Magic Line</text>
<line x1="474.2" x2="534.2" y1="939.8" y2="939.8" stroke="#0d0d0d" stroke-width="3.6"/>
<text x="544.5" y="949.1" font-size="24" fill="#2f2f2f">Weekly Close</text>
<line x1="773.4" x2="833.4" y1="939.8" y2="939.8" stroke="#c0b4ed" stroke-width="2.9"/>
<text x="843.7" y="949.1" font-size="24" fill="#2f2f2f">Composite</text>
<line x1="1072.6" x2="1132.6" y1="939.8" y2="939.8" stroke="#1f77b4" stroke-width="2.4" stroke-dasharray="18 18"/>
<text x="1142.9" y="949.1" font-size="24" fill="#2f2f2f">Baseline (0)</text>
<line x1="1371.8" x2="1431.8" y1="939.8" y2="939.8" stroke="#8a8a8a" stroke-width="2" stroke-dasharray="6 6"/>
<text x="1442.1" y="949.1" font-size="24" fill="#2f2f2f">Top Line</text>
<line x1="1671" x2="1731" y1="939.8" y2="939.8" stroke="#8a8a8a" stroke-width="2" stroke-dasharray="6 6"/>
<text x="1741.3" y="949.1" font-size="24" fill="#2f2f2f">Bottom Line</text>
<path d="M192.99,983.5H217.01L205,967.9Z" fill="#1fa04b"/>
<text x="245.3" y="986.6" font-size="24" fill="#2f2f2f">Ribbon Flip Up</text>
<path d="M492.19,973.1H516.21L504.2,988.7Z" fill="#dc2626"/>
<text x="544.5" y="986.6" font-size="24" fill="#2f2f2f">Ribbon Flip Down</text>
<path d="M788.85,971.2H817.95L803.4,990.1Z" fill="#e63946"/>
<text x="843.7" y="986.6" font-size="24" fill="#2f2f2f">Sell Signal</text>
<path d="M1088.05,984.6H1117.15L1102.6,965.7Z" fill="#2e9f4f"/>
<text x="1142.9" y="986.6" font-size="24" fill="#2f2f2f">Buy Signal</text>
</svg>
</body></html>
